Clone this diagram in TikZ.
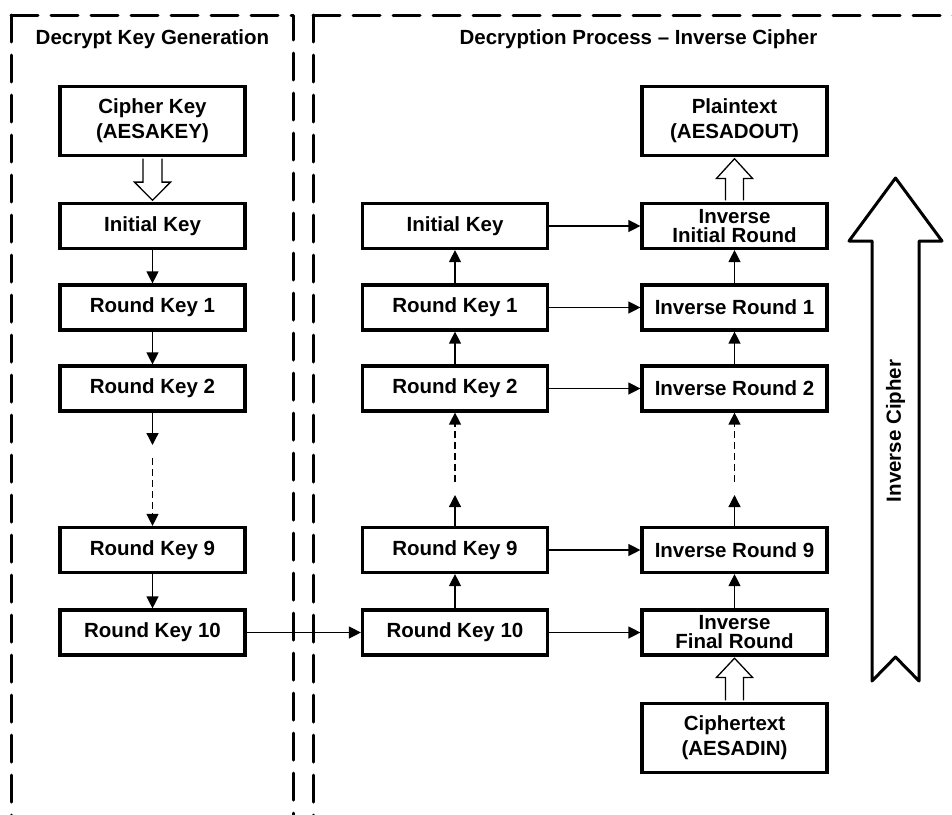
\documentclass[tikz,border=0pt]{standalone}
\usepackage{fontspec}
\setmainfont{Liberation Sans}
\usetikzlibrary{arrows.meta,calc}
\begin{document}
\begin{tikzpicture}[x=1pt,y=-1pt,
  box/.style={draw,line width=3.2pt,minimum width=185pt,minimum height=45pt,inner sep=0pt,align=center,font=\bfseries\fontsize{20.5}{19}\selectfont},
  tallbox/.style={box,minimum height=69pt,font=\bfseries\fontsize{20.5}{25}\selectfont},
  conn/.style={line width=1.3pt,-{Triangle[length=12pt,width=12pt]}},
  dconn/.style={conn,dash pattern=on 7pt off 4pt},
  frame/.style={line width=3pt,line cap=round,line join=round,dash pattern=on 27pt off 13pt},
  hollow/.style={line width=1.3pt,fill=white,line join=miter},
  bigarrow/.style={line width=3pt,fill=white,line join=round},
  title/.style={font=\bfseries\fontsize{20.5}{24}\selectfont,anchor=base,inner sep=0pt}]
\useasboundingbox (0,0) rectangle (952,814);

% frames
\draw[frame] (11,15) -- (11,830);
\draw[frame] (11,15) -- (293,15) -- (293,830);
\draw[frame] (313,15) -- (313,830);
\draw[frame] (313,15) -- (980,15);

% titles
\node[title] (t1) at (152.5,44) {Decrypt Key Generation};
\node[title] (t2) at (638.5,44) {Decryption Process – Inverse Cipher};

% left column
\node[tallbox] (ck) at (152.5,121) {Cipher Key\\(AESAKEY)};
\node[box] (ik) at (152.5,226) {Initial Key};
\node[box] (k1) at (152.5,307.5) {Round Key 1};
\node[box] (k2) at (152.5,388.5) {Round Key 2};
\node[box] (k9) at (152.5,550) {Round Key 9};
\node[box] (k10) at (152.5,632.5) {Round Key 10};

% middle column
\node[box] (mik) at (455,226) {Initial Key};
\node[box] (mk1) at (455,307.5) {Round Key 1};
\node[box] (mk2) at (455,388.5) {Round Key 2};
\node[box] (mk9) at (455,550) {Round Key 9};
\node[box] (mk10) at (455,632.5) {Round Key 10};

% right column
\node[tallbox] (pt) at (734.5,121) {Plaintext\\(AESADOUT)};
\node[box] (iir) at (734.5,226) {Inverse\\Initial Round};
\node[box] (ir1) at (734.5,307.5) {Inverse Round 1};
\node[box] (ir2) at (734.5,388.5) {Inverse Round 2};
\node[box] (ir9) at (734.5,550) {Inverse Round 9};
\node[box] (ifr) at (734.5,632.5) {Inverse\\Final Round};
\node[tallbox] (ct) at (734.5,738) {Ciphertext\\(AESADIN)};

% left column connectors
\draw[conn] (ik) -- (k1);
\draw[conn] (k1) -- (k2);
\coordinate (l1) at (152.5,445);
\coordinate (l2) at (152.5,458);
\draw[conn] (k2) -- (l1);
\draw[dconn] (l2) -- (k9);
\draw[conn] (k9) -- (k10);
\draw[conn] (k10) -- (mk10);

% middle column connectors
\coordinate (m1) at (455,495);
\coordinate (m2) at (455,482);
\draw[conn] (mk10) -- (mk9);
\draw[conn] (mk9) -- (m1);
\draw[dconn] (m2) -- (mk2);
\draw[conn] (mk2) -- (mk1);
\draw[conn] (mk1) -- (mik);

% horizontal connectors
\draw[conn] (mik) -- (iir);
\draw[conn] (mk1) -- (ir1);
\draw[conn] (mk2) -- (ir2);
\draw[conn] (mk9) -- (ir9);
\draw[conn] (mk10) -- (ifr);

% right column connectors
\coordinate (r1) at (734.5,495);
\coordinate (r2) at (734.5,482);
\draw[conn] (ifr) -- (ir9);
\draw[conn] (ir9) -- (r1);
\draw[dconn] (r2) -- (ir2);
\draw[conn] (ir2) -- (ir1);
\draw[conn] (ir1) -- (iir);

% hollow arrows
\draw[hollow] ($(ck.south)+(-9.5,1.6)$) -- ($(ck.south)+(-9.5,25)$) -- ($(ck.south)+(-18,25)$)
  -- ($(ik.north)+(0,-1.6)$) -- ($(ck.south)+(18,25)$) -- ($(ck.south)+(9.5,25)$) -- ($(ck.south)+(9.5,1.6)$);
\draw[hollow] ($(iir.north)+(-9,-1.6)$) -- ($(iir.north)+(-9,-23.5)$) -- ($(iir.north)+(-18,-23.5)$)
  -- ($(pt.south)+(0,1.6)$) -- ($(iir.north)+(18,-23.5)$) -- ($(iir.north)+(9,-23.5)$) -- ($(iir.north)+(9,-1.6)$);
\draw[hollow] ($(ct.north)+(-9,-1.6)$) -- ($(ct.north)+(-9,-24.5)$) -- ($(ct.north)+(-18,-24.5)$)
  -- ($(ifr.south)+(0,1.6)$) -- ($(ct.north)+(18,-24.5)$) -- ($(ct.north)+(9,-24.5)$) -- ($(ct.north)+(9,-1.6)$);

% big arrow
\draw[bigarrow] (895.5,178) -- (942,241) -- (919,241) -- (919,681) -- (895.5,657)
  -- (872,681) -- (872,241) -- (849,241) -- cycle;
\node[rotate=90,font=\bfseries\fontsize{20.5}{24}\selectfont] (ic) at (895.5,431) {Inverse Cipher};
\end{tikzpicture}
\end{document}
